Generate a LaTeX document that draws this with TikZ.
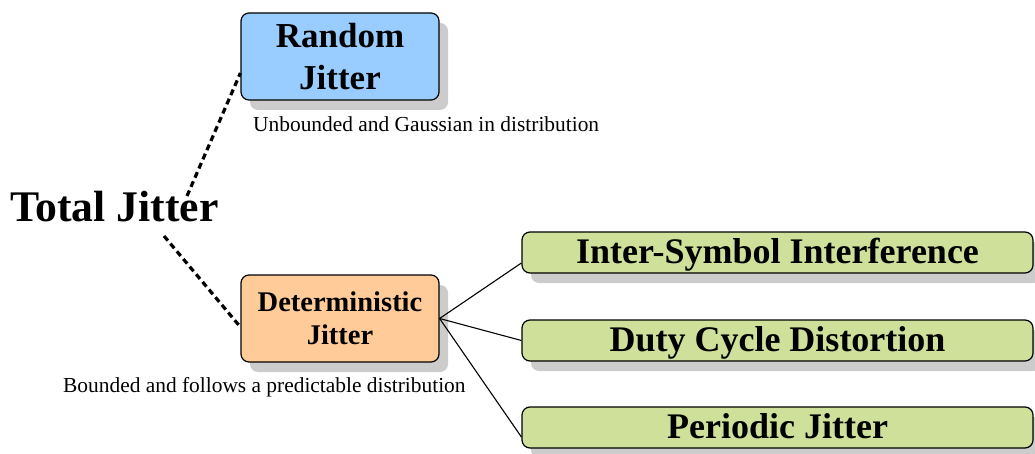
\documentclass[tikz,border=0pt]{standalone}
\usepackage{fontspec}
\setmainfont{Liberation Serif}
\usetikzlibrary{shadows,calc}

\definecolor{rjblue}{HTML}{99CCFF}
\definecolor{djorange}{HTML}{FFCC99}
\definecolor{subgreen}{HTML}{CFE09A}
\definecolor{shadowgray}{HTML}{CCCCCC}

\tikzset{
  jbox/.style={draw=black, line width=1.2pt, rounded corners=8pt, inner sep=0pt,
    align=center, font=\bfseries,
    drop shadow={shadow xshift=9pt, shadow yshift=-10pt, fill=shadowgray, opacity=1}},
  mainbox/.style={jbox, minimum width=198pt, minimum height=87pt},
  subbox/.style={jbox, fill=subgreen, minimum width=511pt, minimum height=41pt,
    text height=22.5pt, text depth=0pt,
    font=\fontsize{36}{40}\selectfont\bfseries},
  caption/.style={inner sep=0pt, anchor=base west, font=\fontsize{21.4}{24}\selectfont},
  dotlink/.style={line width=3.2pt, dash pattern=on 6pt off 4pt},
  link/.style={line width=1.1pt}
}

\begin{document}
\begin{tikzpicture}[x=1pt, y=-1pt]
  \useasboundingbox (0,0) rectangle (1035,454);

  % top-level label
  \node[inner sep=0pt, anchor=base west, font=\fontsize{43.7}{48}\selectfont\bfseries]
    (tj) at (10,222) {Total Jitter};

  % the two jitter components
  \node[mainbox, fill=rjblue, font=\fontsize{35}{42}\selectfont\bfseries]
    (rj) at (340,56.5) {Random\\Jitter};
  \node[mainbox, fill=djorange, font=\fontsize{28.5}{33}\selectfont\bfseries]
    (dj) at (340,318.5) {Deterministic\\Jitter};

  \node[caption] (rjcap) at (253,132) {Unbounded and Gaussian in distribution};
  \node[caption] (djcap) at (63,392) {Bounded and follows a predictable distribution};

  % deterministic sub-components
  \node[subbox] (isi) at (777.5,252.5) {Inter-Symbol Interference};
  \node[subbox] (dcd) at (777.5,340.5) {Duty Cycle Distortion};
  \node[subbox] (pj)  at (777.5,427.5) {Periodic Jitter};

  % dotted links from the total
  \coordinate (tjup) at (187,196);
  \coordinate (tjdn) at (164,236);
  \draw[dotlink] (tjup) -- ([yshift=-16.5pt]rj.west);
  \draw[dotlink] (tjdn) -- ([yshift=-8.5pt]dj.west);

  % solid links to the sub-components
  \draw[link] (dj.east) -- ([yshift=-10.5pt]isi.west);
  \draw[link] (dj.east) -- (dcd.west);
  \draw[link] (dj.east) -- ([yshift=-9.5pt]pj.west);
\end{tikzpicture}
\end{document}
